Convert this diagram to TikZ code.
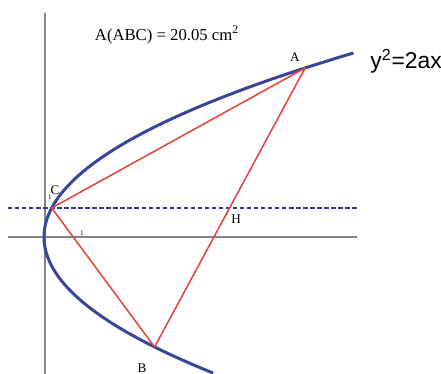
\documentclass[tikz,border=0pt]{standalone}
\usepackage{fontspec}
\setmainfont{Liberation Serif}
\newfontfamily\eqsans{Liberation Sans}
\usepackage{tikz}
\definecolor{pbblue}{HTML}{3A4499}
\definecolor{pbred}{HTML}{E2493F}
\definecolor{pbgray}{HTML}{858585}
\definecolor{pbnavy}{HTML}{33339A}

\begin{document}
\begin{tikzpicture}[x=0.02cm, y=0.02cm,
          ax/.style={draw=pbgray, line width=1.1pt},
          cv/.style={draw=pbblue, line width=1.7pt},
          sd/.style={draw=pbred, line width=0.9pt},
          dl/.style={draw=pbnavy, line width=1.5pt, dash pattern=on 2.5pt off 1.5pt},
          lb/.style={font=\fontsize{7.5}{8}\selectfont},
          tk/.style={font=\fontsize{4}{5}\selectfont, inner sep=0pt}]
          \useasboundingbox (-44,-137) rectangle (397,237);
          \coordinate (xl) at (-36,0);
          \coordinate (xr) at (313,0);
          \coordinate (yt) at (1,224);
          \coordinate (yb) at (1,-137);
          \draw[ax] (xl) -- (xr);
          \draw[ax] (yt) -- (yb);
          \coordinate (hl) at (-36,29);
          \coordinate (hr) at (313,29);
          \draw[dl] (hl) -- (hr);
          \draw[cv, domain=-136:184, samples=90, smooth] plot ({(\x/10)*(\x/10)/1.094},\x);
          \coordinate (A) at (261.1,169);
          \coordinate (B) at (110.6,-110);
          \coordinate (C) at (7.7,29);
          \coordinate (H) at (intersection of A--B and hl--hr);
          \draw[sd] (C) -- (A);
          \draw[sd] (A) -- (B);
          \draw[sd] (B) -- (C);
          \node[lb] (lA) at (251,180) {A};
          \node[lb] (lB) at (98,-131) {B};
          \node[lb] (lC) at (11,47) {C};
          \node[lb, below right=-1pt, xshift=-1.5pt, yshift=-1.5pt] (lH) at (H) {H};
          \node[tk] (t1) at (38,4) {1};
          \node[tk] (t2) at (6,40) {1};
          \node[font=\fontsize{9.5}{11}\selectfont] (area) at (123,202) {A(ABC) = 20.05 cm\textsuperscript{2}};
          \node[font=\eqsans\fontsize{13}{15}\selectfont, anchor=west, inner sep=0pt] (eq) at (326,176) {y\textsuperscript{2}=2ax};
        \end{tikzpicture}
\end{document}
